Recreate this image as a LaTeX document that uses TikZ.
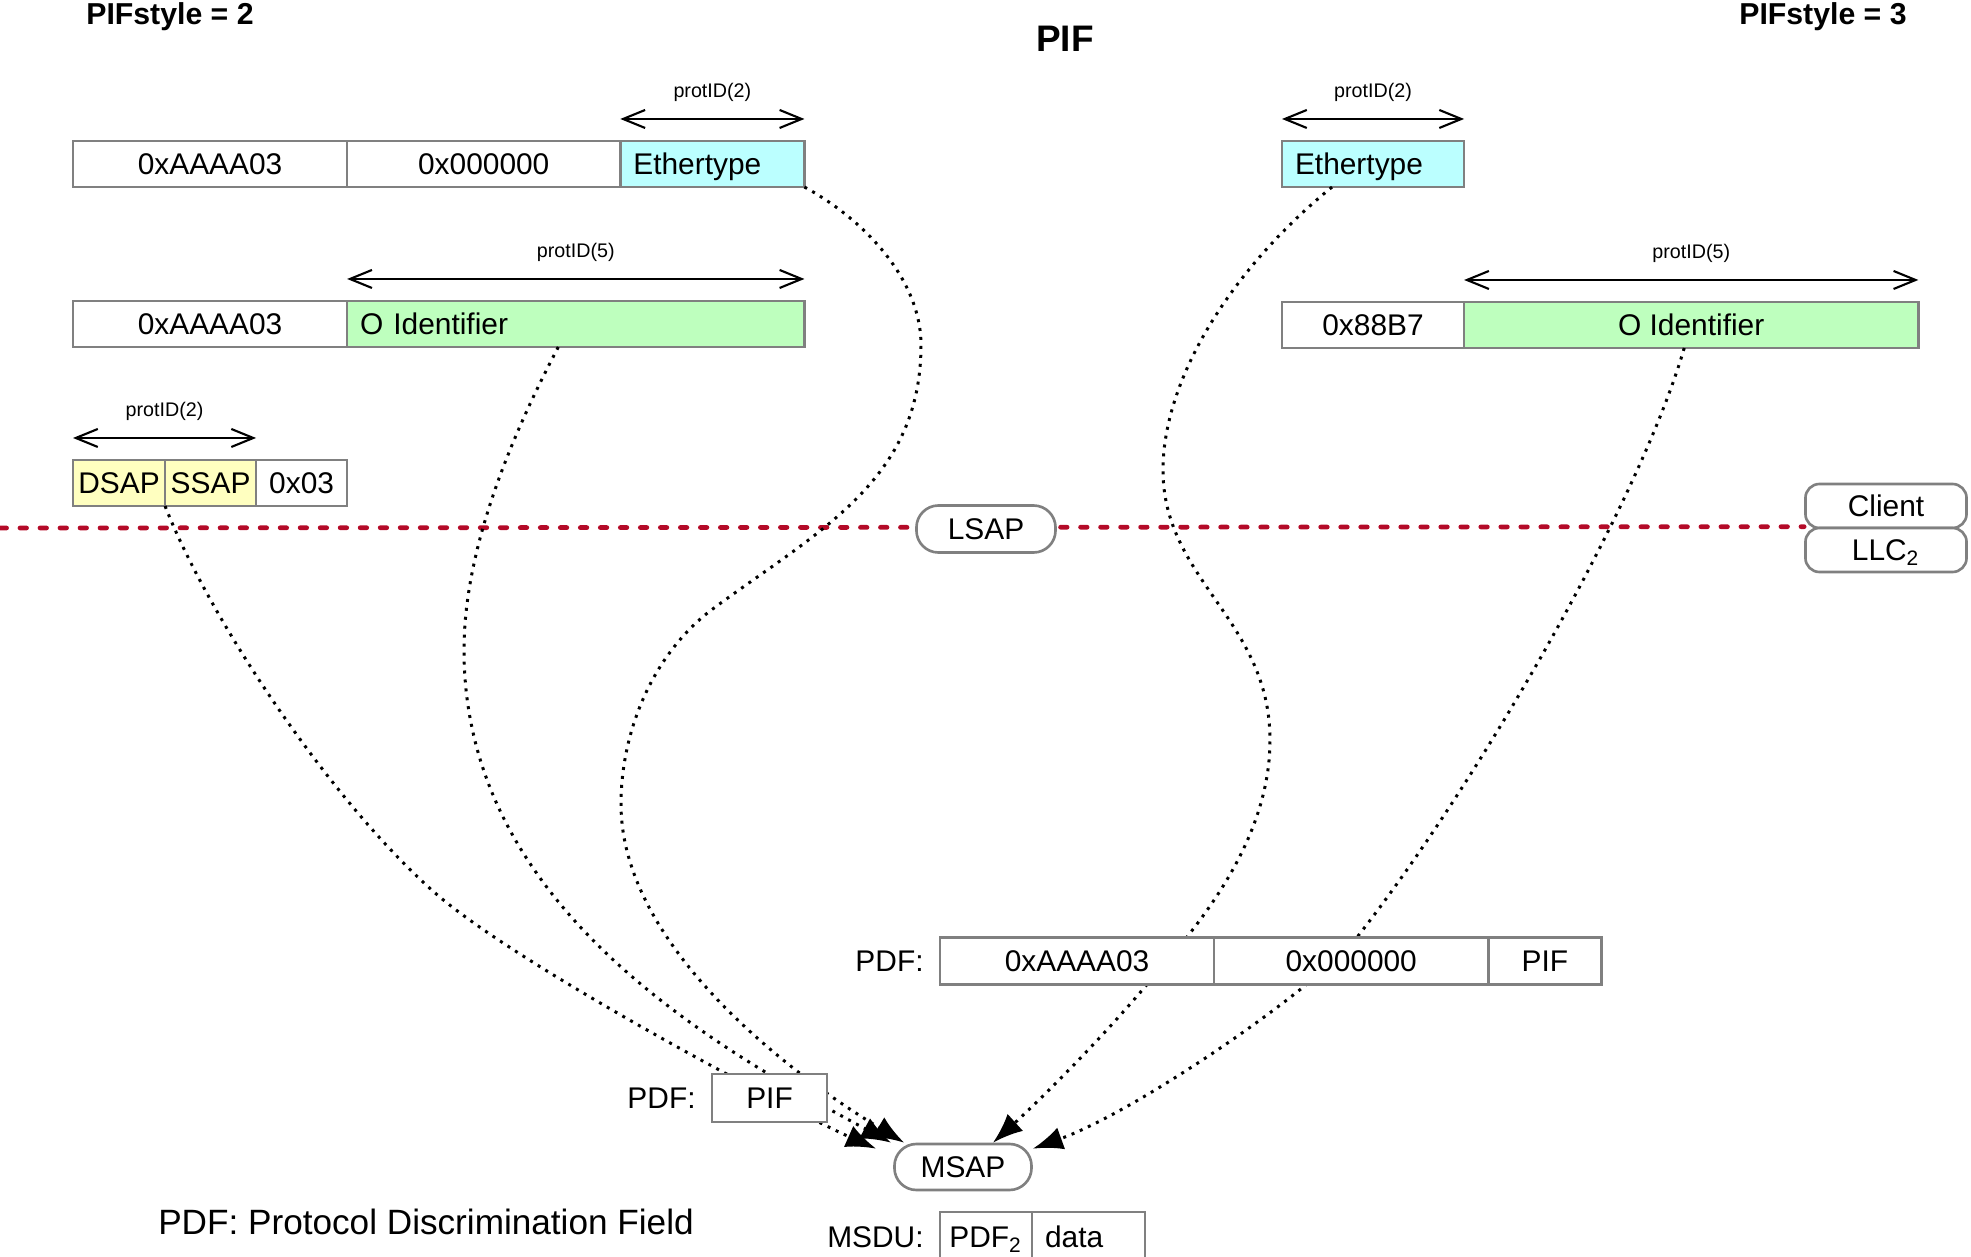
\documentclass[tikz,border=0pt]{standalone}
\usepackage{fontspec}
\setmainfont{Liberation Sans}
\usepackage{tikz}
\usetikzlibrary{arrows.meta, positioning}

\definecolor{boxgray}{RGB}{128,128,128}
\definecolor{ethcyan}{RGB}{187,255,255}
\definecolor{oidgreen}{RGB}{190,255,190}
\definecolor{sapyellow}{RGB}{255,255,192}
\definecolor{llcred}{RGB}{180,10,40}

\newcommand{\fieldfont}{\fontsize{8.5}{10}\selectfont}
\newcommand{\spanfont}{\fontsize{5.6}{7}\selectfont}
\newcommand{\headfont}{\bfseries\fontsize{8.6}{10}\selectfont}
\newcommand{\pifheadfont}{\bfseries\fontsize{10.5}{12}\selectfont}
\newcommand{\legendfont}{\fontsize{10}{12}\selectfont}

\begin{document}
\begin{tikzpicture}[x=0.01cm, y=-0.01cm,
  field/.style={draw=boxgray, line width=0.75pt, fill=white, minimum height=0.46cm,
    inner sep=0pt, outer sep=0pt, anchor=west, font=\fieldfont,
    text height=6pt, text depth=0pt},
  leftfield/.style={field, align=left, inner xsep=0.13cm},
  sap/.style={draw=boxgray, line width=0.75pt, fill=white, rounded corners=0.22cm,
    minimum width=1.37cm, minimum height=0.46cm, inner sep=0pt, font=\fieldfont,
    text height=6pt, text depth=0pt},
  llcbox/.style={sap, rounded corners=0.14cm, minimum width=1.61cm, minimum height=0.44cm},
  protspan/.style={{Straight Barb[length=2.2mm,width=1.8mm]}-{Straight Barb[length=2.2mm,width=1.8mm]}, line width=0.6pt},
  spanlabel/.style={midway, above=0.05cm, font=\spanfont},
  mapping/.style={-{Latex[length=3mm,width=2.3mm]}, line width=0.85pt, dash pattern=on 0.85pt off 1.7pt},
  llcline/.style={llcred, line width=1.35pt, line cap=round, dash pattern=on 0.065cm off 0.135cm},
  lab/.style={font=\fieldfont},
  head/.style={font=\headfont}]

  \useasboundingbox (0,0) rectangle (1971,1257);

  \node[head] (styleTwo) at (170,17) {PIFstyle = 2};
  \node[head] (styleThree) at (1823,17) {PIFstyle = 3};
  \node[font=\pifheadfont] (pifHead) at (1065,39) {PIF};

  % PIFstyle = 2
  \node[field, minimum width=2.74cm] (snapE) at (73,164) {0xAAAA03};
  \node[field, minimum width=2.73cm, right=0pt of snapE] (ouiE) {0x000000};
  \node[leftfield, fill=ethcyan, text width=1.58cm, right=0pt of ouiE] (ethL) {Ethertype};
  \draw[protspan] ([yshift=0.22cm]ethL.north west) -- ([yshift=0.22cm]ethL.north east)
    node[spanlabel] (pidEthL) {protID(2)};

  \node[field, minimum width=2.74cm] (snapO) at (73,324) {0xAAAA03};
  \node[leftfield, fill=oidgreen, text width=4.31cm, right=0pt of snapO] (oidL) {O Identifier};
  \draw[protspan] ([yshift=0.22cm]oidL.north west) -- ([yshift=0.22cm]oidL.north east)
    node[spanlabel] (pidOidL) {protID(5)};

  \node[field, fill=sapyellow, minimum width=0.92cm] (dsap) at (73,483) {DSAP};
  \node[field, fill=sapyellow, minimum width=0.91cm, right=0pt of dsap] (ssap) {SSAP};
  \node[field, minimum width=0.91cm, right=0pt of ssap] (ctrl) {0x03};
  \draw[protspan] ([yshift=0.22cm]dsap.north west) -- ([yshift=0.22cm]ssap.north east)
    node[spanlabel] (pidSap) {protID(2)};

  % PIFstyle = 3
  \node[leftfield, fill=ethcyan, text width=1.56cm] (ethR) at (1282,164) {Ethertype};
  \draw[protspan] ([yshift=0.22cm]ethR.north west) -- ([yshift=0.22cm]ethR.north east)
    node[spanlabel] (pidEthR) {protID(2)};

  \node[field, minimum width=1.82cm] (typeR) at (1282,325) {0x88B7};
  \node[field, fill=oidgreen, minimum width=4.54cm, right=0pt of typeR] (oidR) {O Identifier};
  \draw[protspan] ([yshift=0.22cm]oidR.north west) -- ([yshift=0.22cm]oidR.north east)
    node[spanlabel] (pidOidR) {protID(5)};

  \node[sap] (msap) at (963,1167) {MSAP};
  \node[llcbox] (client) at (1886,506) {Client};
  \node[llcbox] (llc) at (1886,550) {LLC\textsubscript{2}};

  \coordinate (lineStart) at (0,528);
  \draw[llcline] (lineStart) -- (llc.north west);

  \draw[mapping] (ethL.south east) .. controls (865,220) and (921,280) .. (921,345)
    .. controls (921,480) and (820,530) .. (714,608)
    .. controls (654,652) and (621,730) .. (621,804)
    .. controls (621,950) and (800,1080) .. ([xshift=0.11cm]msap.north west);
  \draw[mapping] ([xshift=-0.175cm]oidL.south) .. controls (520,420) and (464,540) .. (464,650)
    .. controls (464,900) and (700,1040) .. ([xshift=-0.02cm]msap.north west);
  \draw[mapping] (dsap.south east) .. controls (210,620) and (330,800) .. (434,892)
    .. controls (520,968) and (800,1115) .. ([xshift=-0.17cm,yshift=-0.06cm]msap.north west);
  \draw[mapping] ([xshift=-0.41cm]ethR.south) .. controls (1230,270) and (1163,380) .. (1163,470)
    .. controls (1163,580) and (1270,620) .. (1270,740)
    .. controls (1270,850) and (1185,940) .. (1144,988)
    .. controls (1100,1040) and (1040,1100) .. ([xshift=0.3cm]msap.north);
  \draw[mapping] ([xshift=-0.07cm]oidR.south) .. controls (1640,500) and (1480,780) .. (1358,936)
    .. controls (1320,985) and (1140,1110) .. ([yshift=-0.06cm]msap.north east);

  \node[sap, minimum width=1.39cm, minimum height=0.47cm] (lsap) at (986,529) {LSAP};

  \node[field, minimum width=1.15cm, minimum height=0.48cm] (pif) at (712,1098) {PIF};
  \node[lab, left=0.04cm of pif] (pifLab) {PDF:};

  \node[field, minimum width=2.74cm, minimum height=0.47cm] (pdfSnap) at (940,961) {0xAAAA03};
  \node[field, minimum width=2.74cm, minimum height=0.47cm, right=0pt of pdfSnap] (pdfOui) {0x000000};
  \node[field, minimum width=1.13cm, minimum height=0.47cm, right=0pt of pdfOui] (pdfPif) {PIF};
  \node[lab, left=0.04cm of pdfSnap] (pdfLab) {PDF:};

  \node[field, minimum width=0.92cm, minimum height=0.5cm] (msduPdf) at (940,1237) {PDF\textsubscript{2}};
  \node[leftfield, minimum height=0.5cm, text width=0.87cm, right=0pt of msduPdf] (msduData) {data};
  \node[lab, left=0.04cm of msduPdf] (msduLab) {MSDU:};

  \node[font=\legendfont] (legend) at (426,1222) {PDF: Protocol Discrimination Field};

\end{tikzpicture}
\end{document}
